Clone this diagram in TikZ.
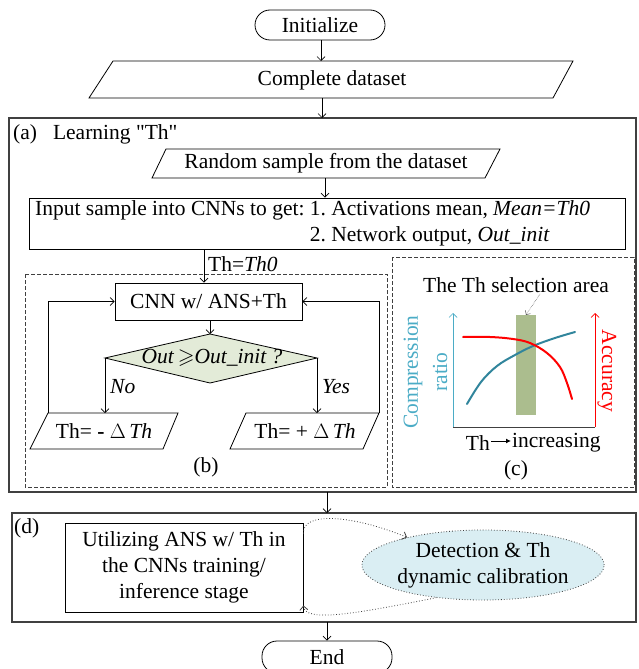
\documentclass[tikz,border=0pt]{standalone}
\usepackage{amssymb}
\usepackage{fontspec}
\setmainfont{Liberation Serif}
\newfontfamily\nq{Liberation Serif}
\usetikzlibrary{arrows.meta,shapes.geometric,calc}
\definecolor{teal1}{HTML}{31859C}
\definecolor{lblue}{HTML}{4BACC6}
\definecolor{dgreen}{HTML}{E3EBD8}
\definecolor{rectg}{HTML}{ABBD8E}
\definecolor{ellb}{HTML}{DAEEF3}
\definecolor{frm}{HTML}{404040}
\tikzset{
  txt/.style={font=\fontsize{21.5}{26}\selectfont, inner sep=0pt},
  boxln/.style={draw=black, line width=0.8pt},
  frame/.style={draw=frm, line width=1.1pt},
  dbox/.style={draw=frm, line width=0.8pt, dash pattern=on 4pt off 2pt},
  arr/.style={draw=black, line width=0.7pt, -{Straight Barb[length=4pt,width=8pt]}},
  darr/.style={draw=black!75, line width=0.8pt, dotted, -{Straight Barb[length=4pt,width=8pt]}},
}
\frenchspacing
\begin{document}
\begin{tikzpicture}[x=1pt,y=-1pt]
\useasboundingbox (0,0) rectangle (638,669);

% frames
\draw[frame] (9,118) rectangle (636,492);
\draw[frame] (12,513) rectangle (636,622);
\draw[dbox] (25,274) rectangle (387,487);
\draw[dbox] (392,257) rectangle (634,487);

% Initialize
\node[boxln, rounded corners=15pt, minimum width=130pt, minimum height=30pt, txt] (init) at (320,25) {Initialize};

% Complete dataset
\coordinate (cdtop) at (321,61);
\draw[boxln] (113,61) -- (573,61) -- (553,98) -- (89,98) -- cycle;
\node[txt] (cd) at (332,80) {Complete dataset};
\coordinate (cdbot) at (322,98);
\coordinate (atop) at (322,118);

% (a) label
\node[txt, anchor=west] (alab) at (13,134) {(a)\hspace{16pt}Learning {\nq"}Th{\nq"}};

% Random sample
\draw[boxln] (166,149) -- (500,149) -- (485,178) -- (152,178) -- cycle;
\node[txt] (rs) at (326,163) {Random sample from the dataset};
\coordinate (rstop) at (325,149);
\coordinate (rsbot) at (325,178);

% Input box
\node[boxln, minimum width=596pt, minimum height=51pt, inner sep=0pt] (inbox) at (327,223.5) {};
\node[txt, anchor=west, align=left] (intext) at (35,223.5) {Input sample into CNNs to get: 1. Activations mean, \textit{Mean=Th0}\\\phantom{Input sample into CNNs to get: }2. Network output, \textit{Out\_init}};
\coordinate (thx) at (204,249);

% CNN box
\node[boxln, minimum width=187pt, minimum height=37pt, txt] (cnn) at (208.5,301.5) {CNN w/ ANS+Th};
\node[txt, anchor=west] (thlab) at (208,264) {Th=\textit{Th0}};

% diamond
\coordinate (dtop) at (210,334);
\coordinate (dleft) at (105,358);
\coordinate (dright) at (317,358);
\coordinate (dbot) at (210,383);
\draw[boxln, fill=dgreen] (dtop) -- (dright) -- (dbot) -- (dleft) -- cycle;
\node[txt] (dia) at (212,358) {\textit{Out}\,$\geqslant$\textit{Out\_init ?}};

% left/right parallelograms
\coordinate (lptl) at (48,413);
\coordinate (lptop) at (105,413);
\draw[boxln] (48,413) -- (178,413) -- (163,449) -- (30,449) -- cycle;
\node[txt] (lp) at (104,431) {Th= \textbf{-} \textit{$\Delta$\,Th}};
\coordinate (rptr) at (379,413);
\coordinate (rptop) at (317,413);
\draw[boxln] (246,413) -- (379,413) -- (363,449) -- (230,449) -- cycle;
\node[txt] (rp) at (305,431) {Th= + \textit{$\Delta$\,Th}};

\node[txt, anchor=west] (no) at (110,387) {\textit{No}};
\node[txt, anchor=west] (yes) at (322,387) {\textit{Yes}};
\node[txt] (blab) at (206,467) {(b)};

% connectors top
\draw[arr] (init.south -| cdtop) -- (cdtop);
\draw[arr] (cdbot) -- (atop);
\draw[arr] (rsbot) -- (rstop |- inbox.north);
\draw[arr] (thx) -- (thx |- cnn.north);
\draw[arr] (cnn.south -| dtop) -- (dtop);
\draw[arr] (dleft) -- (lptop);
\draw[arr] (dright) -- (rptop);
\draw[arr] (lptl) -- (lptl |- cnn.west) -- (cnn.west);
\draw[arr] (rptr) -- (rptr |- cnn.east) -- (cnn.east);

% panel (c)
\node[txt] (sel) at (516,285) {The Th selection area};
\node[fill=rectg, minimum width=20pt, minimum height=100pt, inner sep=0pt] (green) at (526,365) {};
\coordinate (orig) at (453,427);
\coordinate (ytop) at (453,313);
\coordinate (xend) at (595,427);
\coordinate (rtop) at (595,313);
\draw[draw=frm, line width=0.9pt] (orig) -- (xend);
\draw[arr, draw=lblue] (orig) -- (ytop);
\draw[arr, draw=red] (xend) -- (rtop);
\draw[teal1, line width=2pt, line cap=round] plot[smooth, tension=0.6] coordinates {(467,404) (481,382) (497,366) (515,355) (533,346) (555,338) (575,332)};
\draw[red, line width=2pt, line cap=round] plot[smooth, tension=0.6] coordinates {(463,337) (490,337) (513,339) (530,343) (547,353) (560,367) (567,383) (572,399)};
\draw[draw=frm, line width=0.5pt, densely dotted, -{Straight Barb[length=3pt,width=6pt]}] (540,294) -- (green.north);
\node[txt, text=lblue, rotate=90] (comp) at (413,372) {Compression};
\node[txt, text=lblue, rotate=90] (ratio) at (440,372) {ratio};
\node[txt, text=red, rotate=-90] (acc) at (607,371) {Accuracy};
\node[txt, anchor=east] (thx2) at (490,443) {Th};
\node[txt, anchor=west] (incr) at (512,443) {increasing};
\draw[line width=1pt, -{Latex[length=5pt,width=5pt]}] ([xshift=1pt,yshift=2pt]thx2.east) -- ([xshift=-1pt,yshift=2pt]incr.west);
\node[txt] (clab) at (516,470) {(c)};

% panel (d)
\coordinate (dtopin) at (327,513);
\coordinate (dbotout) at (327,622);
\draw[arr] (327,492) -- (dtopin);
\node[txt, anchor=west] (dlab) at (14,528) {(d)};
\node[boxln, minimum width=238pt, minimum height=89pt, txt, align=center] (util) at (184,567.5) {Utilizing ANS w/ Th in\\the CNNs training/\\inference stage};
\node[ellipse, draw=black!75, line width=0.8pt, dotted, fill=ellb, minimum width=232pt, minimum height=70pt, txt, align=center] (ell) at (483,565) {Detection \& Th\\dynamic calibration};
\draw[darr] ([yshift=34pt]util.east) .. controls (302,512) and (350,514) .. (ell.160);
\draw[darr] (ell.215) .. controls (350,615) and (305,622) .. ([yshift=-38pt]util.east);

% End
\node[boxln, rounded corners=15pt, minimum width=130pt, minimum height=32pt, txt] (endn) at (327,657) {End};
\draw[arr] (dbotout) -- (endn.north);
\end{tikzpicture}
\end{document}
